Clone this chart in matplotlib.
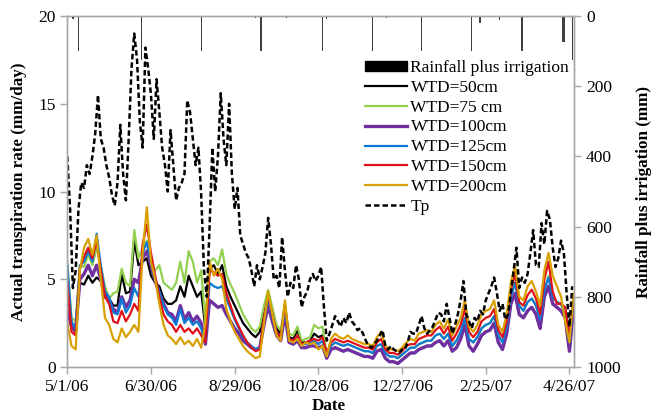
import matplotlib
matplotlib.use("Agg")
import matplotlib.pyplot as plt
import numpy as np
from matplotlib.patches import Patch
from matplotlib.lines import Line2D

plt.rcParams['font.family'] = ['Liberation Serif', 'DejaVu Serif']

# ---------------- data ----------------
tick_days = [0, 60, 120, 180, 240, 300, 360]
tick_labels = ["5/1/06", "6/30/06", "8/29/06", "10/28/06", "12/27/06", "2/25/07", "4/26/07"]

wtd_days = list(range(0, 364, 3))   # days since 5/1/06
tp_days = list(range(0, 363, 2))

tp = [12.0,9.0,4.5,5.5,9.0,10.5,10.2,11.5,11.0,12.0,
      13.3,15.5,13.0,12.5,11.5,10.8,9.8,9.2,10.5,13.8,
      11.0,9.5,13.0,17.0,19.0,17.5,14.0,12.5,18.2,17.0,
      15.5,13.0,16.4,14.5,12.5,11.5,10.0,13.5,11.5,9.5,
      10.2,10.5,11.0,15.2,14.5,13.0,11.5,12.5,9.8,5.5,
      4.0,8.0,12.5,10.0,12.0,15.6,13.0,11.5,15.0,11.0,
      9.0,10.2,7.5,7.0,6.5,6.2,5.5,4.6,5.8,5.0,
      5.7,6.5,8.5,7.0,5.0,5.2,4.5,7.4,5.5,4.0,
      4.8,4.5,5.8,5.0,3.4,4.0,4.3,5.0,5.3,4.9,
      5.2,5.7,3.4,1.5,1.9,2.4,2.9,2.6,2.3,2.8,
      2.5,3.1,2.6,2.4,2.1,2.2,1.9,1.5,1.2,1.1,
      1.3,1.5,1.8,2.1,1.2,1.0,1.2,1.0,0.9,0.8,
      1.0,1.0,1.4,2.0,1.9,1.9,2.4,2.9,2.2,1.9,
      2.1,2.3,2.7,3.1,3.0,2.6,3.6,2.8,1.9,2.4,
      3.0,3.8,4.9,3.0,2.6,2.2,2.8,2.6,3.2,3.0,
      3.8,4.2,4.6,5.1,4.2,3.2,3.6,2.7,3.0,4.2,
      5.5,6.8,4.5,5.1,4.8,5.3,6.5,7.8,5.8,5.7,
      8.2,7.0,8.9,8.4,6.8,5.7,6.2,7.2,6.5,4.2,
      2.3,4.6]

wtd50 = [4.5,2.5,2.3,4.8,4.7,5.2,4.8,5.1,4.9,4.2,
         3.9,3.5,3.5,5.3,4.2,4.3,7.2,5.8,6.0,6.2,
         5.2,4.8,4.6,3.9,3.6,3.6,3.8,4.6,4.0,5.2,
         4.6,4.0,4.3,2.2,5.6,5.8,5.3,5.8,4.6,4.0,
         3.5,3.0,2.5,2.2,1.9,1.7,2.0,3.2,4.0,3.1,
         2.2,1.9,3.4,1.7,1.6,2.1,1.4,1.4,1.5,1.9,
         1.7,1.8,0.6,1.0,1.1,1.0,0.9,1.0,0.9,0.8,
         0.7,0.6,0.6,0.5,0.9,1.0,0.5,0.3,0.3,0.2,
         0.4,0.6,0.8,0.8,1.0,1.1,1.2,1.2,1.4,1.5,
         1.2,1.5,0.9,1.1,1.6,2.4,1.2,0.9,1.3,1.8,
         2.0,2.1,2.5,1.4,1.0,1.9,3.6,4.2,3.0,2.8,
         3.2,3.4,3.0,2.2,4.0,4.6,3.6,3.4,3.2,2.8,
         0.9,3.4]

wtd75 = [6.0,2.8,2.6,5.8,5.7,6.4,5.8,6.8,5.8,4.6,
         3.9,4.2,4.3,5.6,4.8,4.6,7.8,6.2,6.8,7.2,
         5.8,5.5,5.8,4.8,4.6,4.4,4.8,6.0,4.8,6.6,
         6.0,4.8,5.5,2.5,6.0,6.2,5.8,6.7,5.3,4.7,
         4.2,3.6,3.0,2.6,2.2,2.0,2.3,3.5,4.4,3.4,
         2.4,2.1,3.6,1.9,1.8,2.3,1.5,1.6,1.7,2.4,
         2.2,2.3,0.7,1.2,1.4,1.3,1.2,1.3,1.2,1.1,
         1.0,0.9,0.9,0.8,1.2,1.3,0.8,0.6,0.6,0.5,
         0.7,0.9,1.1,1.1,1.3,1.4,1.5,1.5,1.8,1.9,
         1.6,1.9,1.2,1.5,2.0,2.8,1.6,1.4,1.7,2.2,
         2.4,2.5,2.9,1.8,1.4,2.3,4.0,4.8,3.5,3.2,
         3.7,3.9,3.5,2.7,4.4,5.2,4.0,3.7,3.6,3.0,
         1.4,3.8]

wtd100 = [3.2,2.3,2.0,5.0,5.3,5.8,5.2,5.8,5.0,4.0,
          3.8,3.3,3.1,4.0,3.4,3.8,5.0,4.8,6.2,6.6,
          5.8,4.9,4.2,3.6,3.1,3.0,2.6,3.5,2.7,3.1,
          2.6,2.9,2.5,1.3,3.8,3.6,3.4,3.5,3.0,2.6,
          2.2,1.9,1.5,1.3,1.1,1.0,1.1,2.4,3.5,2.6,
          1.8,1.5,3.0,1.4,1.3,1.5,1.1,1.1,1.2,1.2,
          1.1,1.2,0.5,1.0,1.1,1.0,0.9,1.0,0.9,0.8,
          0.7,0.6,0.6,0.5,0.9,1.0,0.5,0.3,0.3,0.2,
          0.4,0.6,0.8,0.8,1.0,1.1,1.2,1.2,1.4,1.5,
          1.2,1.5,0.9,1.1,1.6,2.4,1.2,0.9,1.3,1.8,
          2.0,2.1,2.5,1.4,1.0,1.9,3.6,4.2,3.0,2.8,
          3.2,3.4,3.0,2.2,4.0,4.6,3.6,3.4,3.2,2.8,
          0.9,3.4]

wtd125 = [5.8,2.6,2.2,5.8,6.0,6.6,6.0,7.6,5.8,4.3,
          4.0,3.1,3.0,3.9,3.1,3.5,4.5,4.0,6.5,7.1,
          6.0,5.0,4.3,3.5,3.0,2.8,2.4,3.3,2.5,2.8,
          2.4,2.6,2.2,1.4,4.8,4.6,4.5,4.6,3.9,3.3,
          2.7,2.2,1.7,1.4,1.2,1.0,1.1,2.7,3.9,2.9,
          2.0,1.7,3.3,1.6,1.5,1.7,1.3,1.3,1.4,1.5,
          1.3,1.5,0.7,1.2,1.4,1.3,1.2,1.3,1.2,1.1,
          1.0,0.9,0.9,0.8,1.2,1.3,0.8,0.6,0.6,0.5,
          0.7,0.9,1.1,1.1,1.3,1.4,1.5,1.5,1.8,1.9,
          1.6,1.9,1.2,1.5,2.0,2.8,1.6,1.4,1.7,2.2,
          2.4,2.5,2.9,1.8,1.4,2.3,4.0,4.8,3.5,3.2,
          3.7,3.9,3.5,2.7,4.4,5.1,4.0,3.7,3.6,3.0,
          1.4,3.8]

wtd150 = [4.8,2.0,1.8,5.6,6.3,6.8,6.2,7.2,5.5,4.0,
          3.6,2.6,2.5,3.2,2.6,3.0,3.6,3.2,7.0,8.1,
          6.5,5.2,4.0,3.0,2.6,2.4,2.0,2.4,2.0,2.2,
          1.9,2.2,1.8,1.4,5.5,5.4,5.2,5.3,4.2,3.5,
          2.8,2.3,1.8,1.4,1.1,0.9,1.0,2.8,4.1,3.0,
          2.0,1.7,3.6,1.6,1.5,1.8,1.3,1.4,1.5,1.6,
          1.5,1.7,0.8,1.4,1.6,1.5,1.4,1.5,1.4,1.3,
          1.2,1.1,1.1,1.0,1.4,1.6,1.0,0.8,0.8,0.7,
          0.9,1.2,1.3,1.3,1.6,1.7,1.8,1.8,2.1,2.3,
          1.9,2.3,1.5,1.9,2.4,3.3,2.0,1.7,2.0,2.6,
          2.8,2.9,3.3,2.1,1.7,2.6,4.4,5.3,3.7,3.5,
          4.1,4.4,3.9,3.0,5.0,6.0,4.3,3.6,3.6,3.4,
          1.8,3.8]

wtd200 = [2.5,1.2,1.0,5.5,6.8,7.3,6.4,7.5,5.0,2.8,
          2.4,1.6,1.4,2.2,1.7,2.0,2.4,2.0,6.5,9.1,
          6.0,5.0,3.6,2.4,1.8,1.6,1.3,1.7,1.3,1.5,
          1.2,1.6,1.1,2.5,6.0,5.2,5.6,5.0,3.3,2.6,
          2.0,1.6,1.2,0.9,0.7,0.5,0.6,2.5,4.3,3.0,
          1.8,1.5,3.8,1.5,1.4,1.6,1.2,1.4,1.3,1.4,
          1.0,1.2,0.6,1.6,1.9,1.7,1.6,1.8,1.6,1.5,
          1.4,1.3,1.3,1.2,1.7,2.0,1.2,1.0,1.0,0.9,
          1.1,1.4,1.6,1.5,1.9,2.0,2.1,2.0,2.4,2.6,
          2.2,2.7,1.8,2.3,2.8,3.8,2.3,2.0,2.4,3.0,
          3.2,3.3,3.8,2.4,2.0,3.0,4.8,5.8,4.0,3.8,
          4.6,4.9,4.3,3.5,5.5,6.5,5.2,4.6,4.0,2.6,
          1.4,4.2]

rain_days = [4, 8, 53, 96, 135, 139, 157, 183, 186, 219, 229, 254, 290, 296, 310, 326, 355, 356, 362]
rain_mm = [8, 100, 125, 100, 5, 100, 5, 100, 8, 100, 5, 100, 100, 20, 12, 100, 75, 75, 125]

series = [
    ("WTD=50cm", wtd50, "#000000", 1.6),
    ("WTD=75 cm", wtd75, "#92d050", 1.6),
    ("WTD=100cm", wtd100, "#7030a0", 2.4),
    ("WTD=125cm", wtd125, "#0a7ad6", 1.6),
    ("WTD=150cm", wtd150, "#e0101a", 1.6),
    ("WTD=200cm", wtd200, "#d8a000", 1.6),
]

# ---------------- figure ----------------
fig = plt.figure(figsize=(6.51, 4.17), dpi=100)
ax = fig.add_axes([0.1034, 0.1199, 0.7788, 0.8417])
ax2 = ax.twinx()

spine_col = "#a6a6a6"
handles = []
for label, vals, col, lw in series:
    h, = ax.plot(wtd_days, vals, color=col, lw=lw, label=label)
    handles.append(h)
htp, = ax.plot(tp_days, tp, color="black", lw=1.8, ls=(0, (2.2, 1.2)), label="Tp")

ax2.bar(rain_days, rain_mm, width=1.0, color="#404040", align="center")
ax2.set_ylim(1000, 0)
ax2.set_yticks([0, 200, 400, 600, 800, 1000])

ax.set_xlim(0, 363.5)
ax.set_ylim(0, 20)
ax.set_yticks([0, 5, 10, 15, 20])
ax.set_xticks(tick_days)
ax.set_xticklabels(tick_labels)

for a in (ax, ax2):
    for s in a.spines.values():
        s.set_color(spine_col)
        s.set_linewidth(1.0)
    a.tick_params(colors=spine_col, labelcolor="black", labelsize=12.5, length=5, width=1)

ax.set_ylabel("Actual transpiration rate (mm/day)", fontsize=12.3, fontweight="bold", labelpad=8)
ax.set_xlabel("Date", fontsize=12.3, fontweight="bold", labelpad=2)
ax.xaxis.label.set_x(0.515)
ax2.set_ylabel("Rainfall plus irrigation (mm)", fontsize=12.3, fontweight="bold", labelpad=11)

rain_handle = Patch(facecolor="black", edgecolor="black")
leg = ax2.legend([rain_handle] + handles + [htp],
                 ["Rainfall plus irrigation"] + [s[0] for s in series] + ["Tp"],
                 loc="upper right", bbox_to_anchor=(0.99, 0.875), frameon=False,
                 fontsize=12.5, handlelength=2.4, handleheight=0.5, labelspacing=0.22,
                 handletextpad=0.2, borderaxespad=0, borderpad=0)

fig.savefig("out.png", dpi=100)
